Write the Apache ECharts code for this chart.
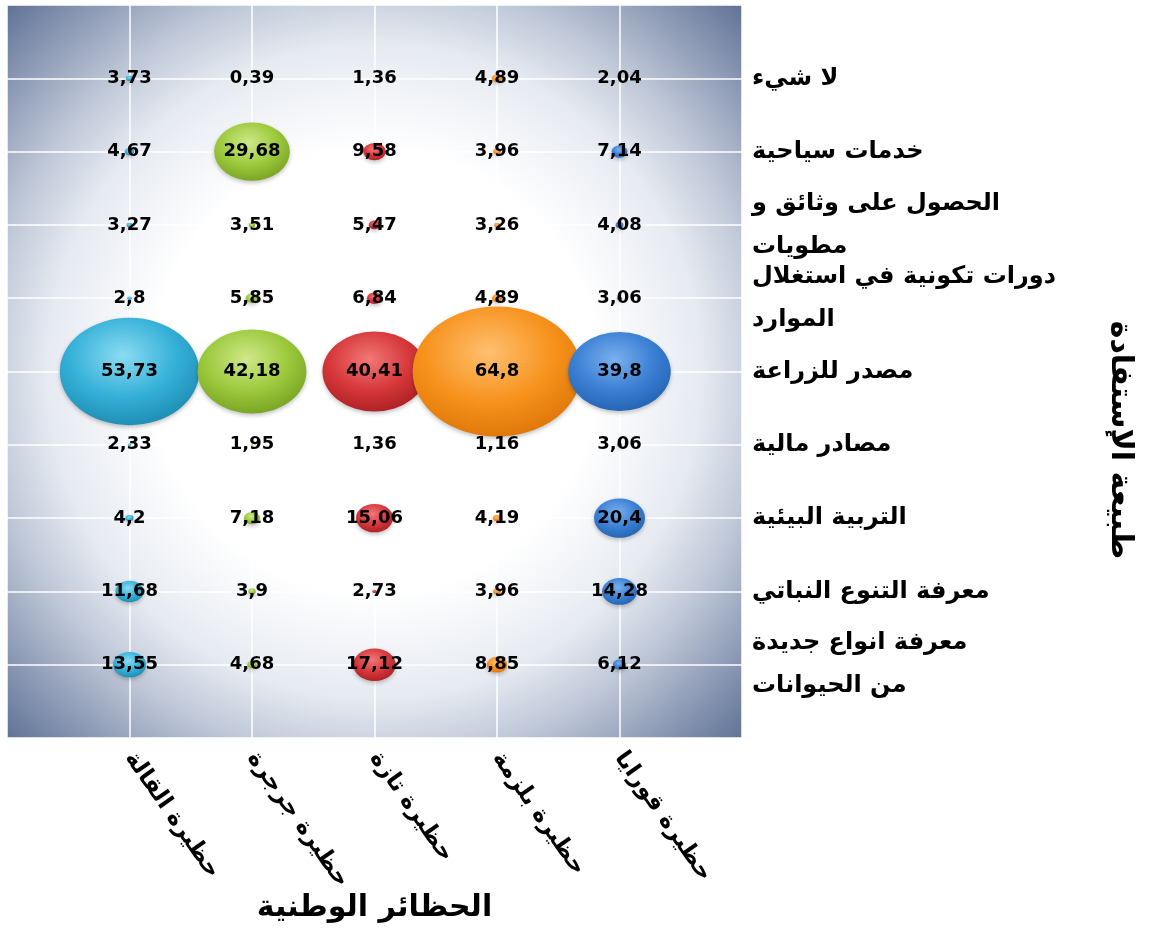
<!DOCTYPE html>
<html>
<head>
<meta charset="utf-8">
<title>الحظائر الوطنية</title>
<script src="https://cdn.jsdelivr.net/npm/echarts@6/dist/echarts.min.js"></script>
<style>
  html, body { margin: 0; padding: 0; background: #fff; }
  #chartmain { width: 1150px; height: 931px; }
</style>
</head>
<body>
<div id="chartmain"></div>
<script>
// الحظائر (من اليسار الى اليمين)
var parks = ['حظيرة القالة', 'حظيرة جرجرة', 'حظيرة تازة', 'حظيرة بلزمة', 'حظيرة قورايا'];
// طبيعة الاستفادة (من الاعلى الى الاسفل)
var benefits = [
  'لا شيء',
  'خدمات سياحية',
  'الحصول على وثائق و\nمطويات',
  'دورات تكونية في استغلال\nالموارد',
  'مصدر للزراعة',
  'مصادر مالية',
  'التربية البيئية',
  'معرفة التنوع النباتي',
  'معرفة انواع جديدة\nمن الحيوانات'
];
// القيم لكل حظيرة بنفس ترتيب benefits
var elKala     = [3.73, 4.67, 3.27, 2.8, 53.73, 2.33, 4.2, 11.68, 13.55];
var djurdjura  = [0.39, 29.68, 3.51, 5.85, 42.18, 1.95, 7.18, 3.9, 4.68];
var taza       = [1.36, 9.58, 5.47, 6.84, 40.41, 1.36, 15.06, 2.73, 17.12];
var belezma    = [4.89, 3.96, 3.26, 4.89, 64.8, 1.16, 4.19, 3.96, 8.85];
var gouraya    = [2.04, 7.14, 4.08, 3.06, 39.8, 3.06, 20.4, 14.28, 6.12];

var allValues = [elKala, djurdjura, taza, belezma, gouraya];
var colors = [
  ['#8adcf2', '#35b0d8', '#1b89b0'],
  ['#cfe98a', '#9cc93c', '#74a020'],
  ['#f27878', '#d6373a', '#a81e22'],
  ['#ffc070', '#f7921c', '#dc7406'],
  ['#7ab0ee', '#3b80d4', '#2160b0']
];

// حجم الفقاعة (بيضوي)
function bubbleSize(d) {
  var w = Math.max(0, 2.65 * d[2] - 3);
  return [w, w * 0.77];
}

var series = [];
for (var p = 0; p < parks.length; p++) {
  var pts = [];
  for (var i = 0; i < benefits.length; i++) {
    pts.push([p + 1, benefits.length - i, allValues[p][i]]);
  }
  series.push({
    name: parks[p],
    type: 'scatter',
    data: pts,
    symbolSize: bubbleSize,
    itemStyle: {
      opacity: 1,
      color: {
        type: 'radial', x: 0.45, y: 0.35, r: 0.7,
        colorStops: [
          { offset: 0, color: colors[p][0] },
          { offset: 0.55, color: colors[p][1] },
          { offset: 1, color: colors[p][2] }
        ]
      },
      shadowBlur: 4,
      shadowColor: 'rgba(0,0,0,0.25)',
      shadowOffsetY: 2
    },
    label: {
      show: true,
      position: 'inside',
      color: '#000',
      fontFamily: 'DejaVu Sans',
      fontWeight: 'bold',
      fontSize: 18,
      formatter: function (prm) {
        return String(prm.value[2]).replace('.', ',');
      }
    },
    emphasis: { disabled: true }
  });
}

var option = {
  animation: false,
  grid: {
    left: 7, right: 408, top: 5, bottom: 193,
    outerBoundsMode: 'none',
    containLabel: false,
    show: true,
    borderWidth: 0,
    backgroundColor: {
      type: 'radial', x: 0.5, y: 0.5, r: 0.72,
      colorStops: [
        { offset: 0, color: '#ffffff' },
        { offset: 0.42, color: '#ffffff' },
        { offset: 0.62, color: '#e6eaf1' },
        { offset: 0.74, color: '#bfc8d8' },
        { offset: 1, color: '#5a6c92' }
      ]
    }
  },
  xAxis: {
    type: 'value',
    min: 0, max: 6, interval: 1,
    name: 'الحظائر الوطنية',
    nameLocation: 'middle',
    nameGap: 155,
    nameMoveOverlap: false,
    nameTextStyle: { fontFamily: 'DejaVu Sans', fontWeight: 'bold', fontSize: 30, color: '#000' },
    axisLine: { show: false },
    axisTick: { show: false },
    splitLine: { show: true, lineStyle: { color: '#ffffff', width: 1.5 } },
    axisLabel: {
      rotate: -55,
      margin: 16,
      fontFamily: 'DejaVu Sans',
      fontWeight: 'bold',
      fontSize: 23,
      color: '#000',
      showMinLabel: false,
      showMaxLabel: false,
      formatter: function (v) { return parks[v - 1] || ''; }
    }
  },
  yAxis: {
    type: 'value',
    position: 'right',
    min: 0, max: 10, interval: 1,
    axisLine: { show: false },
    axisTick: { show: false },
    splitLine: { show: true, lineStyle: { color: '#ffffff', width: 1.5 } },
    axisLabel: {
      margin: 10,
      align: 'left',
      fontFamily: 'DejaVu Sans',
      fontWeight: 'bold',
      fontSize: 24,
      lineHeight: 43,
      color: '#000',
      showMinLabel: false,
      showMaxLabel: false,
      formatter: function (v) { return benefits[benefits.length - v] || ''; }
    }
  },
  graphic: [{
    type: 'text',
    x: 1120, y: 440,
    rotation: -Math.PI / 2,
    style: {
      text: 'طبيعة الإستفادة',
      fontFamily: 'DejaVu Sans',
      fontWeight: 'bold',
      fontSize: 30,
      fill: '#000',
      textAlign: 'center',
      textVerticalAlign: 'middle'
    }
  }],
  series: series
};

var myChart = echarts.init(document.getElementById('chartmain'));
myChart.setOption(option);
</script>
</body>
</html>
